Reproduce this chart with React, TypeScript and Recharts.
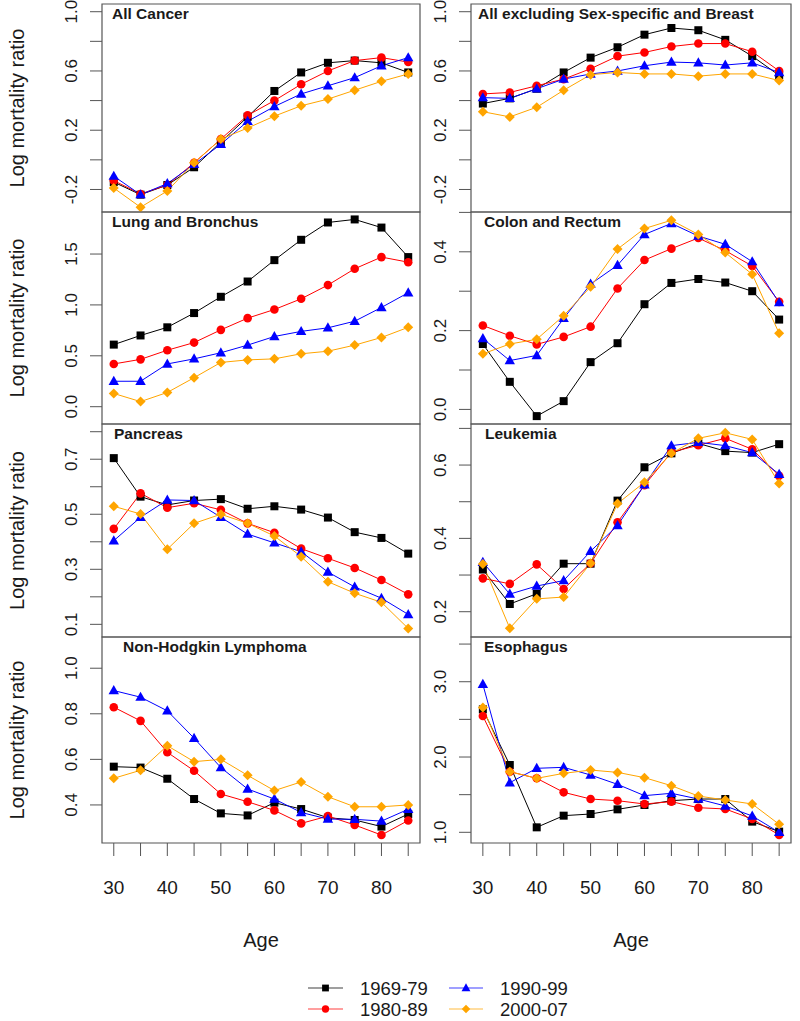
import React from 'react';
import { LineChart, Line, XAxis, YAxis, ReferenceArea } from 'recharts';

// ---------- data ----------
const ages = [30, 35, 40, 45, 50, 55, 60, 65, 70, 75, 80, 85];
const ageLabels = [30, 40, 50, 60, 70, 80];
const periods = ['1969-79', '1980-89', '1990-99', '2000-07'];
const periodColors = ['#000000', '#FF0000', '#0000FF', '#FFA500'];
const periodShapes = ['square', 'circle', 'triangle', 'diamond'];

const allCancer = [
  [-0.15, -0.235, -0.17, -0.05, 0.12, 0.29, 0.465, 0.59, 0.655, 0.67, 0.655, 0.59],
  [-0.14, -0.23, -0.17, -0.02, 0.14, 0.3, 0.4, 0.51, 0.6, 0.67, 0.69, 0.66],
  [-0.11, -0.235, -0.16, -0.03, 0.105, 0.26, 0.36, 0.445, 0.5, 0.555, 0.635, 0.69],
  [-0.19, -0.32, -0.21, -0.02, 0.14, 0.215, 0.295, 0.365, 0.41, 0.47, 0.53, 0.58],
];
const allExcluding = [
  [0.38, 0.415, 0.48, 0.59, 0.69, 0.76, 0.845, 0.89, 0.875, 0.81, 0.7, 0.57],
  [0.445, 0.455, 0.5, 0.545, 0.615, 0.7, 0.725, 0.765, 0.785, 0.785, 0.73, 0.6],
  [0.42, 0.415, 0.48, 0.545, 0.58, 0.6, 0.635, 0.66, 0.655, 0.64, 0.655, 0.59],
  [0.325, 0.29, 0.355, 0.47, 0.575, 0.59, 0.58, 0.58, 0.565, 0.58, 0.58, 0.535],
];
const lung = [
  [0.61, 0.7, 0.78, 0.92, 1.08, 1.23, 1.44, 1.64, 1.81, 1.84, 1.76, 1.47],
  [0.42, 0.465, 0.555, 0.63, 0.755, 0.87, 0.955, 1.06, 1.195, 1.355, 1.47, 1.42],
  [0.25, 0.25, 0.42, 0.47, 0.53, 0.605, 0.69, 0.74, 0.775, 0.84, 0.975, 1.12],
  [0.13, 0.05, 0.14, 0.285, 0.435, 0.46, 0.47, 0.52, 0.545, 0.605, 0.68, 0.78],
];
const colon = [
  [0.166, 0.07, -0.017, 0.021, 0.12, 0.168, 0.267, 0.321, 0.331, 0.322, 0.3, 0.228],
  [0.213, 0.187, 0.165, 0.184, 0.21, 0.307, 0.379, 0.408, 0.435, 0.403, 0.364, 0.273],
  [0.18, 0.124, 0.137, 0.231, 0.318, 0.366, 0.444, 0.472, 0.44, 0.419, 0.375, 0.271],
  [0.141, 0.166, 0.178, 0.238, 0.311, 0.407, 0.459, 0.48, 0.444, 0.398, 0.343, 0.193],
];
const pancreas = [
  [0.704, 0.564, 0.534, 0.55, 0.555, 0.52, 0.529, 0.517, 0.488, 0.435, 0.414, 0.357],
  [0.447, 0.576, 0.524, 0.54, 0.516, 0.467, 0.433, 0.375, 0.34, 0.305, 0.261, 0.209],
  [0.404, 0.489, 0.552, 0.55, 0.489, 0.428, 0.396, 0.364, 0.29, 0.236, 0.195, 0.136],
  [0.529, 0.501, 0.373, 0.467, 0.5, 0.467, 0.421, 0.346, 0.255, 0.213, 0.18, 0.085],
];
const leukemia = [
  [0.315, 0.221, 0.249, 0.331, 0.331, 0.503, 0.594, 0.632, 0.659, 0.638, 0.634, 0.657],
  [0.291, 0.276, 0.329, 0.262, 0.332, 0.444, 0.545, 0.635, 0.654, 0.673, 0.643, 0.571],
  [0.335, 0.248, 0.27, 0.285, 0.365, 0.435, 0.546, 0.653, 0.662, 0.653, 0.634, 0.575],
  [0.33, 0.155, 0.235, 0.24, 0.332, 0.495, 0.553, 0.632, 0.673, 0.688, 0.67, 0.55],
];
const nhl = [
  [0.568, 0.564, 0.515, 0.426, 0.363, 0.354, 0.41, 0.382, 0.344, 0.334, 0.305, 0.36],
  [0.829, 0.769, 0.631, 0.55, 0.448, 0.414, 0.376, 0.319, 0.351, 0.312, 0.268, 0.332],
  [0.902, 0.873, 0.813, 0.693, 0.564, 0.47, 0.426, 0.367, 0.338, 0.337, 0.329, 0.381],
  [0.517, 0.552, 0.66, 0.59, 0.6, 0.53, 0.463, 0.501, 0.436, 0.392, 0.392, 0.4],
];
const esophagus = [
  [2.633, 1.894, 1.066, 1.221, 1.243, 1.305, 1.363, 1.42, 1.442, 1.442, 1.142, 1.009],
  [2.544, 1.805, 1.717, 1.531, 1.442, 1.42, 1.376, 1.407, 1.327, 1.31, 1.177, 0.965],
  [2.965, 1.659, 1.85, 1.863, 1.761, 1.637, 1.487, 1.518, 1.442, 1.35, 1.217, 1.0],
  [2.659, 1.805, 1.717, 1.783, 1.827, 1.796, 1.726, 1.619, 1.482, 1.429, 1.376, 1.106],
];

const titles = [
  'All Cancer', 'All excluding Sex-specific and Breast',
  'Lung and Bronchus', 'Colon and Rectum',
  'Pancreas', 'Leukemia',
  'Non-Hodgkin Lymphoma', 'Esophagus',
];
const panelValues = [allCancer, allExcluding, lung, colon, pancreas, leukemia, nhl, esophagus];
const yDomains: [number, number][] = [
  [-0.352, 1.052], [-0.352, 1.052],
  [-0.17, 1.913], [-0.037, 0.501],
  [0.054, 0.828], [0.131, 0.712],
  [0.233, 1.137], [0.858, 3.594],
];
const yTicks = [
  [-0.2, 0, 0.2, 0.4, 0.6, 0.8, 1.0], [-0.2, 0, 0.2, 0.4, 0.6, 0.8, 1.0],
  [0, 0.5, 1.0, 1.5], [0, 0.1, 0.2, 0.3, 0.4, 0.5],
  [0.1, 0.2, 0.3, 0.4, 0.5, 0.6, 0.7, 0.8], [0.2, 0.3, 0.4, 0.5, 0.6, 0.7],
  [0.4, 0.6, 0.8, 1.0], [1.0, 1.5, 2.0, 2.5, 3.0, 3.5],
];
const yTickLabels = [
  [-0.2, 0.2, 0.6, 1.0], [-0.2, 0.2, 0.6, 1.0],
  [0, 0.5, 1.0, 1.5], [0, 0.2, 0.4],
  [0.1, 0.3, 0.5, 0.7], [0.2, 0.4, 0.6],
  [0.4, 0.6, 0.8, 1.0], [1.0, 2.0, 3.0],
];

// ---------- layout ----------
const FONT = "'Liberation Sans', Arial, Helvetica, sans-serif";
const X_DOMAIN: [number, number] = [27.8, 87.2];
const colLeft = [102, 471];
const colRight = [420, 791];
const rowTop = [4, 212, 424, 637];
const rowBottom = [212, 424, 637, 843];
const titleX = [112, 478, 112, 484, 114, 485, 123, 484];
const PAD = 8;
const AXIS_COLOR = '#555';
const TEXT_COLOR = '#1a1a1a';

function Marker({ shape, color, cx, cy, s = 1 }: any) {
  if (cx == null || cy == null || isNaN(cx) || isNaN(cy)) return null;
  switch (shape) {
    case 'square':
      return <rect x={cx - 4 * s} y={cy - 4 * s} width={8 * s} height={8 * s} fill={color} />;
    case 'circle':
      return <circle cx={cx} cy={cy} r={4.3 * s} fill={color} />;
    case 'triangle':
      return (
        <path
          d={`M${cx},${cy - 5.5 * s} L${cx + 5.2 * s},${cy + 3.7 * s} L${cx - 5.2 * s},${cy + 3.7 * s} Z`}
          fill={color}
        />
      );
    default:
      return (
        <path
          d={`M${cx},${cy - 5 * s} L${cx + 5 * s},${cy} L${cx},${cy + 5 * s} L${cx - 5 * s},${cy} Z`}
          fill={color}
        />
      );
  }
}

const near = (list: number[], v: number) => list.some((t) => Math.abs(t - v) < 1e-6);

function Panel({ idx }: { idx: number }) {
  const col = idx % 2;
  const row = Math.floor(idx / 2);
  const isBottom = row === 3;
  const yAxisWidth = col === 0 ? colLeft[0] : colLeft[1] - colRight[0];
  const plotW = colRight[col] - colLeft[col];
  const plotH = rowBottom[row] - rowTop[row];
  const xAxisHeight = isBottom ? 70 : 0;
  const width = yAxisWidth + plotW + PAD;
  const height = PAD + plotH + (isBottom ? xAxisHeight : PAD);
  const vals = panelValues[idx];
  const data = ages.map((age, i) => {
    const r: any = { age };
    periods.forEach((p, k) => {
      r[p] = vals[k][i];
    });
    return r;
  });
  const labels = yTickLabels[idx];
  const dom = yDomains[idx];

  const YTick = (props: any) => {
    const { x, y, payload } = props;
    if (!near(labels, payload.value)) return <g />;
    const bx = x - 13;
    return (
      <text
        x={bx}
        y={y}
        transform={`rotate(-90 ${bx} ${y})`}
        textAnchor="middle"
        fontSize={17}
        fontFamily={FONT}
        fill={TEXT_COLOR}
      >
        {Number(payload.value).toFixed(1)}
      </text>
    );
  };

  const XTick = (props: any) => {
    const { x, y, payload } = props;
    if (!ageLabels.includes(payload.value)) return <g />;
    return (
      <text x={x} y={y + 38} textAnchor="middle" fontSize={19} fontFamily={FONT} fill={TEXT_COLOR}>
        {payload.value}
      </text>
    );
  };

  return (
    <div style={{ position: 'absolute', left: colRight[0] * col, top: rowTop[row] - PAD }}>
      <LineChart
        width={width}
        height={height}
        data={data}
        margin={{ top: PAD, right: PAD, bottom: isBottom ? 0 : PAD, left: 0 }}
      >
        <XAxis
          dataKey="age"
          type="number"
          domain={X_DOMAIN}
          allowDataOverflow
          ticks={ages}
          interval={0}
          hide={!isBottom}
          height={xAxisHeight}
          axisLine={false}
          tickSize={13}
          tickMargin={0}
          tickLine={{ stroke: AXIS_COLOR, strokeWidth: 1 }}
          tick={<XTick />}
        />
        <YAxis
          type="number"
          domain={dom}
          allowDataOverflow
          ticks={yTicks[idx]}
          interval={0}
          width={yAxisWidth}
          axisLine={false}
          tickSize={12}
          tickMargin={0}
          tickLine={{ stroke: AXIS_COLOR, strokeWidth: 1 }}
          tick={<YTick />}
        />
        <ReferenceArea
          x1={X_DOMAIN[0]}
          x2={X_DOMAIN[1]}
          y1={dom[0]}
          y2={dom[1]}
          fill="none"
          fillOpacity={0}
          stroke={AXIS_COLOR}
          strokeWidth={1.2}
          ifOverflow="visible"
        />
        {periods.map((p, k) => (
          <Line
            key={p}
            dataKey={p}
            name={p}
            stroke={periodColors[k]}
            strokeWidth={1}
            isAnimationActive={false}
            activeDot={false}
            dot={(dp: any) => (
              <Marker
                key={`${p}-${dp.index}`}
                shape={periodShapes[k]}
                color={periodColors[k]}
                cx={dp.cx}
                cy={dp.cy}
              />
            )}
          />
        ))}
      </LineChart>
    </div>
  );
}

function Overlay() {
  const legendCols = [
    { lineX1: 308, lineX2: 343, textX: 360 },
    { lineX1: 449, lineX2: 483, textX: 500 },
  ];
  const legendRows = [988, 1009];
  return (
    <svg
      width={800}
      height={1021}
      style={{ position: 'absolute', left: 0, top: 0, pointerEvents: 'none' }}
    >
      {titles.map((t, i) => {
        const row = Math.floor(i / 2);
        return (
          <text
            key={t}
            x={titleX[i]}
            y={rowTop[row] + 15}
            fontSize={15.5}
            fontWeight="bold"
            fontFamily={FONT}
            fill={TEXT_COLOR}
          >
            {t}
          </text>
        );
      })}
      {rowTop.map((top, r) => {
        const cy = (top + rowBottom[r]) / 2;
        return (
          <text
            key={`yl-${r}`}
            x={24}
            y={cy}
            transform={`rotate(-90 24 ${cy})`}
            textAnchor="middle"
            fontSize={20}
            fontFamily={FONT}
            fill={TEXT_COLOR}
          >
            Log mortality ratio
          </text>
        );
      })}
      {[0, 1].map((c) => (
        <text
          key={`age-${c}`}
          x={(colLeft[c] + colRight[c]) / 2}
          y={947}
          textAnchor="middle"
          fontSize={20}
          fontFamily={FONT}
          fill={TEXT_COLOR}
        >
          Age
        </text>
      ))}
      {periods.map((p, k) => {
        const c = Math.floor(k / 2);
        const r = k % 2;
        const lc = legendCols[c];
        const y = legendRows[r];
        return (
          <g key={`lg-${p}`}>
            <line x1={lc.lineX1} x2={lc.lineX2} y1={y} y2={y} stroke={periodColors[k]} strokeWidth={1.2} strokeOpacity={0.75} />
            <Marker shape={periodShapes[k]} color={periodColors[k]} cx={(lc.lineX1 + lc.lineX2) / 2} cy={y} s={0.85} />
            <text x={lc.textX} y={y + 6.5} fontSize={18.5} fontFamily={FONT} fill={TEXT_COLOR}>
              {p}
            </text>
          </g>
        );
      })}
    </svg>
  );
}

export default function App() {
  return (
    <div style={{ position: 'absolute', left: 0, top: 0, width: 800, height: 1021, background: '#fff' }}>
      {titles.map((t, i) => (
        <Panel key={t} idx={i} />
      ))}
      <Overlay />
    </div>
  );
}
